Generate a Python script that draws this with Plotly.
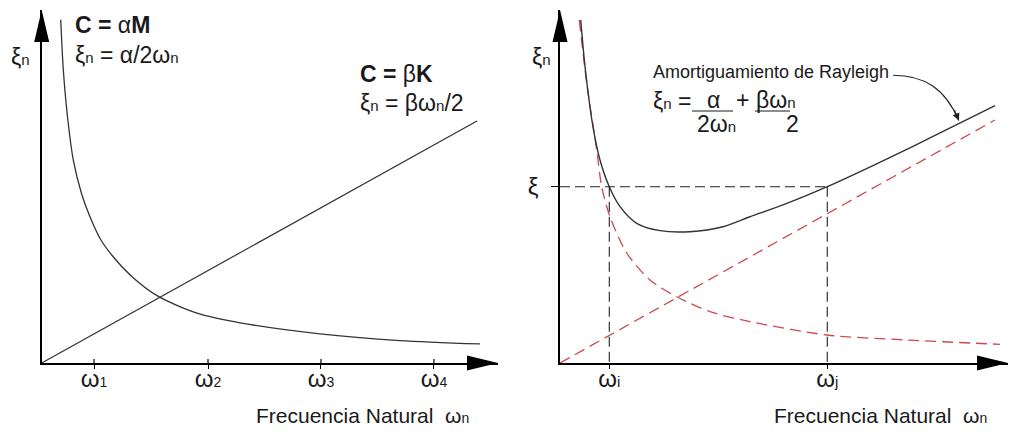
import plotly.graph_objects as go

# ---------------- data (abstract frequency/damping units) ----------------
left_tick_vals = [0.462, 1.468, 2.465, 3.462]
left_tick_labels = ["1", "2", "3", "4"]

mass_w = [0.168, 0.19, 0.225, 0.279, 0.35, 0.426, 0.52, 0.629, 0.8, 1.026, 1.371, 1.751, 2.456, 3.162, 3.868]
mass_xi = [3.03, 2.6, 2.2, 1.79, 1.5, 1.29, 1.09, 0.94, 0.76, 0.59, 0.44, 0.355, 0.257, 0.198, 0.168]

stiff_w = [0.0, 3.842]
stiff_xi = [0.0, 2.136]

ray_w = [0.183, 0.221, 0.291, 0.353, 0.435, 0.530, 0.677, 0.883, 1.147, 1.439, 1.677,
         1.968, 2.359, 2.762, 3.116, 3.546, 3.840]
ray_xi = [3.027, 2.615, 2.086, 1.792, 1.556, 1.380, 1.233, 1.168, 1.159, 1.203, 1.291,
          1.395, 1.556, 1.742, 1.913, 2.125, 2.272]

ralpha_w = [0.170, 0.236, 0.324, 0.368, 0.441, 0.589, 0.794, 1.030, 1.324, 1.677, 2.357, 3.061, 3.883]
ralpha_xi = [3.027, 2.469, 1.880, 1.556, 1.291, 0.971, 0.733, 0.585, 0.453, 0.365, 0.247, 0.203, 0.165]

rbeta_w = [0.0, 3.839]
rbeta_xi = [0.0, 2.145]

w_i = 0.435
w_j = 2.359
xi_target = 1.556
right_tick_vals = [w_i, w_j]
right_tick_labels = ["i", "j"]

# ---------------- layout geometry (pixels) ----------------
W, H = 1009, 433
U = 113.3                      # pixels per unit
LX0, LXT = 41.7, 498.0         # left origin x / arrow tip x
RX0, RXT = 560.0, 1008.0       # right origin x / arrow tip x
Y0, YT = 363.0, 10.0           # origin y / arrow tip y

FONT = "Liberation Sans, Arial, sans-serif"
TXT = "#1a1a1a"
RED = "#cc4a4a"
CURVE = "#333333"


def sub(s, size=14):
    return f"<span style='font-size:{size}px'>{s}</span>"


def px(x, y):
    return x / W, 1 - y / H


fig = go.Figure()

fig.add_trace(go.Scatter(x=mass_w, y=mass_xi, mode="lines", xaxis="x", yaxis="y",
                         line=dict(color=CURVE, width=1.3, shape="spline", smoothing=0.8)))
fig.add_trace(go.Scatter(x=stiff_w, y=stiff_xi, mode="lines", xaxis="x", yaxis="y",
                         line=dict(color=CURVE, width=1.2)))

fig.add_trace(go.Scatter(x=ralpha_w, y=ralpha_xi, mode="lines", xaxis="x2", yaxis="y2",
                         line=dict(color=RED, width=1.3, dash="11px,6px", shape="spline", smoothing=0.8)))
fig.add_trace(go.Scatter(x=rbeta_w, y=rbeta_xi, mode="lines", xaxis="x2", yaxis="y2",
                         line=dict(color=RED, width=1.3, dash="11px,6px")))
fig.add_trace(go.Scatter(x=ray_w, y=ray_xi, mode="lines", xaxis="x2", yaxis="y2",
                         line=dict(color=CURVE, width=1.4, shape="spline", smoothing=0.8)))
# guide lines
fig.add_trace(go.Scatter(x=[0, w_j], y=[xi_target, xi_target], mode="lines", xaxis="x2", yaxis="y2",
                         line=dict(color="#222222", width=1.1, dash="10px,5px")))
fig.add_trace(go.Scatter(x=[w_i, w_i], y=[xi_target, 0], mode="lines", xaxis="x2", yaxis="y2",
                         line=dict(color="#222222", width=1.1, dash="10px,5px")))
fig.add_trace(go.Scatter(x=[w_j, w_j], y=[xi_target, 0], mode="lines", xaxis="x2", yaxis="y2",
                         line=dict(color="#222222", width=1.1, dash="10px,5px")))

ydom = [1 - Y0 / H, 1 - YT / H]
yrange = [0, (Y0 - YT) / U]
axcommon = dict(showgrid=False, zeroline=False, showline=True, linecolor="black", linewidth=1.5,
                fixedrange=True, tickfont=dict(family=FONT, size=24, color=TXT), tickcolor="black")

fig.update_layout(
    width=W, height=H, autosize=False, margin=dict(l=0, r=0, t=0, b=0),
    paper_bgcolor="white", plot_bgcolor="white", showlegend=False,
    xaxis=dict(domain=[LX0 / W, LXT / W], range=[0, (LXT - LX0) / U], anchor="y",
               tickmode="array", tickvals=left_tick_vals,
               ticktext=["ω" + sub(t, 14) for t in left_tick_labels],
               ticks="outside", ticklen=4, tickwidth=1.2, ticklabelstandoff=-11, **axcommon),
    yaxis=dict(domain=ydom, range=yrange, anchor="x", showticklabels=False, ticks="", **axcommon),
    xaxis2=dict(domain=[RX0 / W, RXT / W], range=[0, (RXT - RX0) / U], anchor="y2",
                tickmode="array", tickvals=right_tick_vals,
                ticktext=["ω" + sub(t, 15) for t in right_tick_labels],
                ticks="outside", ticklen=4, tickwidth=1.1, ticklabelstandoff=-11, **axcommon),
    yaxis2=dict(domain=ydom, range=yrange, anchor="x2", tickmode="array",
                tickvals=[xi_target], ticktext=["ξ"], ticks="outside", ticklen=7, tickwidth=1.1,
                ticklabelstandoff=8, **axcommon),
)

shapes = []
# arrowheads
for (ox, tx) in [(LX0, LXT), (RX0, RXT)]:
    a = px(tx, Y0); b = px(tx - 31, Y0 - 7.5); c = px(tx - 31, Y0 + 7.5)
    shapes.append(dict(type="path", xref="paper", yref="paper",
                       path=f"M {a[0]},{a[1]} L {b[0]},{b[1]} L {c[0]},{c[1]} Z",
                       fillcolor="black", line=dict(width=0)))
    a = px(ox, YT); b = px(ox - 7.5, YT + 32); c = px(ox + 7.5, YT + 32)
    shapes.append(dict(type="path", xref="paper", yref="paper",
                       path=f"M {a[0]},{a[1]} L {b[0]},{b[1]} L {c[0]},{c[1]} Z",
                       fillcolor="black", line=dict(width=0)))
# upper half of the left ticks
for tv in left_tick_vals:
    shapes.append(dict(type="line", xref="x", yref="y domain", x0=tv, x1=tv, y0=0, y1=4 / (Y0 - YT),
                       line=dict(color="black", width=1.2)))
# leader to the Rayleigh curve
shapes.append(dict(type="path", xref="x2", yref="y2",
                   path="M 2.94,2.54 C 3.22,2.54 3.40,2.42 3.52,2.14",
                   line=dict(color="#222222", width=1.1)))
# fraction bars in the formula
for (x0, x1) in [(692, 733), (755, 790)]:
    a = px(x0, 111); b = px(x1, 111)
    shapes.append(dict(type="line", xref="paper", yref="paper", x0=a[0], y0=a[1], x1=b[0], y1=b[1],
                       line=dict(color=TXT, width=1.1)))
fig.update_layout(shapes=shapes)


def note(text, x, y, size=22, xanchor="left", yanchor="middle"):
    p = px(x, y)
    fig.add_annotation(text=text, x=p[0], y=p[1], xref="paper", yref="paper", showarrow=False,
                       xanchor=xanchor, yanchor=yanchor, font=dict(family=FONT, size=size, color=TXT))


NB = "\u00a0"
note("ξ" + sub("n", 15), 20, 57, 23, "center")
note("<b>C =</b> α<b>M</b>", 73, 25, 23)
note("ξ" + sub("n", 15) + " = α/2ω" + sub("n", 15), 73, 55, 23)
note("<b>C =</b> β<b>K</b>", 358, 74, 23)
note("ξ" + sub("n", 15) + " = βω" + sub("n", 15) + "/2", 358, 103, 23)
note("Frecuencia Natural" + NB + NB + "ω" + sub("n", 14), 254, 415, 21)

note("ξ" + sub("n", 15), 541, 57, 23, "center")
note("Amortiguamiento de Rayleigh", 651, 72, 18)
note("ξ" + sub("n", 15) + " =", 651, 101, 23)
note("α", 713, 100, 23, "center")
note("2ω" + sub("n", 15), 716, 124, 23, "center")
note("+", 742, 100, 23, "center")
note("βω" + sub("n", 15), 754, 100, 23)
note("2", 792, 124, 23, "center")
note("Frecuencia Natural" + NB + NB + "ω" + sub("n", 14), 772, 415, 21)

fig.add_annotation(text="", x=3.52, y=2.14, xref="x2", yref="y2", showarrow=True,
                   ax=-5, ay=-12, arrowhead=2, arrowsize=1.3, arrowwidth=1.1, arrowcolor="#222222")

fig.write_html("out.html")
